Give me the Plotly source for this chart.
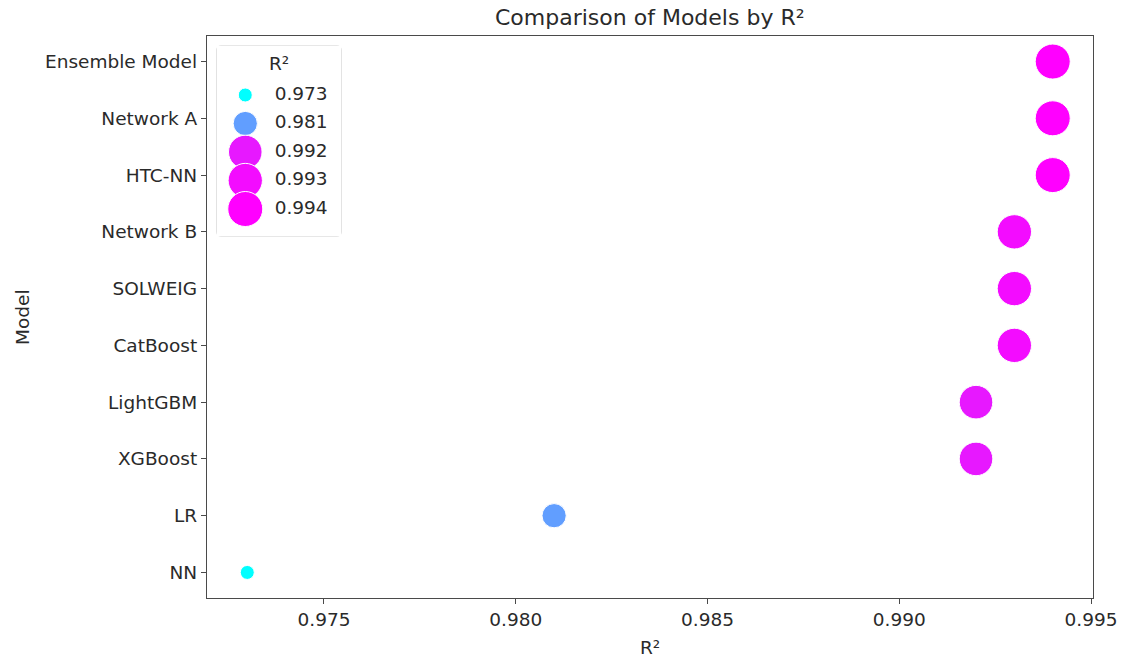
import plotly.graph_objects as go
import numpy as np

# ---- data ----
models = ["Ensemble Model", "Network A", "HTC-NN", "Network B", "SOLWEIG",
          "CatBoost", "LightGBM", "XGBoost", "LR", "NN"]
r2 = [0.994, 0.994, 0.994, 0.993, 0.993, 0.993, 0.992, 0.992, 0.981, 0.973]
legend_levels = [0.973, 0.981, 0.992, 0.993, 0.994]
x_ticks = [0.975, 0.980, 0.985, 0.990, 0.995]

# ---- mappings (seaborn-like hue + size) ----
vmin, vmax = min(r2), max(r2)

def cool(v):
    t = (v - vmin) / (vmax - vmin)
    return "rgb(%d,%d,255)" % (round(255 * t), round(255 * (1 - t)))

D_MIN, D_MAX = 14.0, 35.0
def size_of(v):
    t = (v - vmin) / (vmax - vmin)
    area = D_MIN ** 2 + t * (D_MAX ** 2 - D_MIN ** 2)
    return float(np.sqrt(area))

W, H = 1122, 659
L, R, T, B = 207, 29, 36, 61
pw, ph = W - L - R, H - T - B

FS = 18.5
TXT = "#2a2a2a"
font = "DejaVu Sans"
axis_col = "#4a4a4a"

fig = go.Figure()

# main scatter
fig.add_trace(go.Scatter(
    x=r2, y=models, mode="markers",
    marker=dict(color=[cool(v) for v in r2], size=[size_of(v) for v in r2],
                line=dict(color="white", width=1), opacity=1),
    showlegend=False, hoverinfo="x+y",
    xaxis="x", yaxis="y"))

# custom legend (inset axes so marker sizes match)
def px_x(px):
    return (px - L) / pw

def px_y(py):
    return (H - B - py) / ph

box_x0, box_x1, box_y0, box_y1 = 217, 341, 46, 236
lx0, lx1 = px_x(box_x0), px_x(box_x1)
ly0, ly1 = px_y(box_y1), px_y(box_y0)

idx = list(range(len(legend_levels)))
fig.add_trace(go.Scatter(
    x=[0.228] * len(legend_levels), y=idx, mode="markers",
    marker=dict(color=[cool(v) for v in legend_levels],
                size=[size_of(v) for v in legend_levels],
                line=dict(color="white", width=1), opacity=1),
    showlegend=False, hoverinfo="skip", xaxis="x2", yaxis="y2"))
fig.add_trace(go.Scatter(
    x=[0.465] * len(legend_levels), y=idx, mode="text",
    text=["%.3f" % v for v in legend_levels], textposition="middle right",
    textfont=dict(family=font, size=FS, color=TXT),
    showlegend=False, hoverinfo="skip", xaxis="x2", yaxis="y2"))

# rounded legend frame
r = 4
x0p, x1p, y0p, y1p = box_x0, box_x1, box_y0, box_y1
def P(px, py):
    return "%f,%f" % (px_x(px), px_y(py))
path = ("M " + P(x0p + r, y0p) + " L " + P(x1p - r, y0p) +
        " Q " + P(x1p, y0p) + " " + P(x1p, y0p + r) +
        " L " + P(x1p, y1p - r) + " Q " + P(x1p, y1p) + " " + P(x1p - r, y1p) +
        " L " + P(x0p + r, y1p) + " Q " + P(x0p, y1p) + " " + P(x0p, y1p - r) +
        " L " + P(x0p, y0p + r) + " Q " + P(x0p, y0p) + " " + P(x0p + r, y0p) + " Z")

fig.update_layout(
    width=W, height=H,
    margin=dict(l=L, r=R, t=T, b=B, autoexpand=False),
    paper_bgcolor="white", plot_bgcolor="white",
    font=dict(family=font, size=FS, color=TXT),
    xaxis=dict(domain=[0, 1], range=[vmin - 0.05 * (vmax - vmin), vmax + 0.05 * (vmax - vmin)],
               tickvals=x_ticks, ticktext=["%.3f" % v for v in x_ticks],
               showgrid=False, zeroline=False, showline=True, mirror=True,
               linecolor=axis_col, linewidth=1.3, ticks="outside", ticklen=5,
               tickcolor=axis_col, tickwidth=1.3,
               tickfont=dict(family=font, size=FS, color=TXT)),
    yaxis=dict(domain=[0, 1], type="category",
               categoryorder="array", categoryarray=models[::-1],
               range=[-0.45, len(models) - 1 + 0.45],
               showgrid=False, zeroline=False, showline=True, mirror=True,
               linecolor=axis_col, linewidth=1.3, ticks="outside", ticklen=5,
               tickcolor=axis_col, tickwidth=1.3,
               tickfont=dict(family=font, size=FS, color=TXT)),
    xaxis2=dict(domain=[lx0, lx1], range=[0, 1], visible=False, anchor="y2",
                fixedrange=True),
    yaxis2=dict(domain=[ly0, ly1], range=[(box_y1 - 95) / 28.5, (box_y0 - 95) / 28.5],
                visible=False, anchor="x2", fixedrange=True),
    shapes=[dict(type="path", path=path, xref="paper", yref="paper",
                 line=dict(color="#d0d0d0", width=1.2),
                 fillcolor="rgba(255,255,255,0.8)", layer="below")],
    annotations=[
        dict(text="Comparison of Models by R²", xref="paper", yref="paper",
             x=0.5, y=px_y(18), xanchor="center", yanchor="middle",
             showarrow=False, font=dict(family=font, size=22, color=TXT)),
        dict(text="R²", xref="paper", yref="paper",
             x=0.5, y=px_y(647), xanchor="center", yanchor="middle",
             showarrow=False, font=dict(family=font, size=FS, color=TXT)),
        dict(text="Model", xref="paper", yref="paper", textangle=-90,
             x=px_x(22), y=0.5, xanchor="center", yanchor="middle",
             showarrow=False, font=dict(family=font, size=FS, color=TXT)),
        dict(text="R²", xref="paper", yref="paper",
             x=px_x(279), y=px_y(63), xanchor="center", yanchor="middle",
             showarrow=False, font=dict(family=font, size=FS, color=TXT)),
    ],
)

fig.write_html("out.html", config={"displayModeBar": False},
               post_script="document.body.style.margin='0';document.body.style.overflow='hidden';")
